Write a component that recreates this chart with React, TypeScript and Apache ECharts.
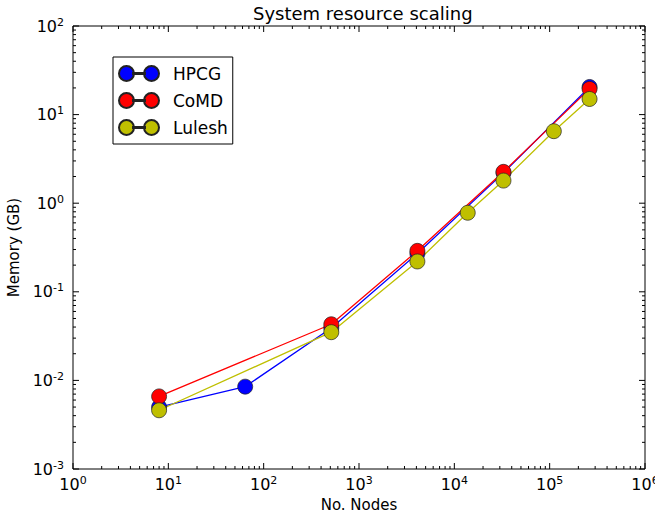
import React, { useEffect, useRef } from 'react';
import * as echarts from 'echarts';

const hpcgNodes = [8, 64, 512, 4096, 32768, 262144];
const hpcgMemory = [0.005, 0.0085, 0.039, 0.27, 2.2, 20.5];
const comdNodes = [8, 512, 4096, 32768, 262144];
const comdMemory = [0.0066, 0.043, 0.29, 2.26, 19.5];
const luleshNodes = [8, 512, 4096, 13824, 32768, 110592, 262144];
const luleshMemory = [0.0046, 0.035, 0.22, 0.78, 1.8, 6.5, 15];
const xDecades = [0, 1, 2, 3, 4, 5, 6];
const yDecades = [-3, -2, -1, 0, 1, 2];

const FONT = 'DejaVu Sans';
const LEGEND_ICON =
  'path://M0,7.5A7.5,7.5,0,1,1,15,7.5A7.5,7.5,0,1,1,0,7.5Z M25,7.5A7.5,7.5,0,1,1,40,7.5A7.5,7.5,0,1,1,25,7.5Z M14,7.1L26,7.1L26,7.9L14,7.9Z';

const zip = (xs: number[], ys: number[]) => xs.map((x, i) => [x, ys[i]]);

const supLabel = (v: number) => {
  const e = Math.round(Math.log10(v));
  return `{b|10}{s|${e}}`;
};

const labelRich = {
  b: { fontSize: 16, fontFamily: FONT, color: '#000' },
  s: { fontSize: 11, fontFamily: FONT, color: '#000', padding: [0, 0, 8, 0] },
};

function mkSeries(name: string, xs: number[], ys: number[], color: string) {
  return {
    name,
    type: 'line',
    data: zip(xs, ys),
    symbol: 'circle',
    symbolSize: 15,
    lineStyle: { color, width: 1.3 },
    itemStyle: { color, borderColor: '#222', borderWidth: 0.7 },
    emphasis: { disabled: true },
  };
}

export default function App() {
  const ref = useRef<HTMLDivElement>(null);
  useEffect(() => {
    const chart = echarts.init(ref.current!, undefined, { renderer: 'svg' });
    const tickSeries = {
      type: 'custom',
      silent: true,
      z: 10,
      clip: false,
      data: [[1, 1]],
      renderItem: (params: any, api: any) => {
        const cs = params.coordSys;
        const children: any[] = [];
        const st = { stroke: '#000', lineWidth: 1 };
        const left = cs.x, right = cs.x + cs.width, top = cs.y, bottom = cs.y + cs.height;
        xDecades.forEach((d, i) => {
          for (let k = 1; k <= 9; k++) {
            if (k > 1 && i === xDecades.length - 1) break;
            const px = api.coord([k * Math.pow(10, d), 1])[0];
            const len = k === 1 ? 6 : 3;
            children.push({ type: 'line', shape: { x1: px, y1: bottom, x2: px, y2: bottom - len }, style: st });
            children.push({ type: 'line', shape: { x1: px, y1: top, x2: px, y2: top + len }, style: st });
          }
        });
        yDecades.forEach((d, i) => {
          for (let k = 1; k <= 9; k++) {
            if (k > 1 && i === yDecades.length - 1) break;
            const py = api.coord([1, k * Math.pow(10, d)])[1];
            const len = k === 1 ? 6 : 3;
            children.push({ type: 'line', shape: { x1: left, y1: py, x2: left + len, y2: py }, style: st });
            children.push({ type: 'line', shape: { x1: right, y1: py, x2: right - len, y2: py }, style: st });
          }
        });
        return { type: 'group', children };
      },
    };
    chart.setOption({
      animation: false,
      backgroundColor: '#fff',
      title: {
        text: 'System resource scaling',
        left: 248,
        top: -1,
        textStyle: { fontFamily: FONT, fontSize: 18, fontWeight: 'normal', color: '#000' },
      },
      grid: {
        left: 73,
        right: 10,
        top: 26,
        bottom: 46,
        show: true,
        borderColor: '#000',
        borderWidth: 1,
        backgroundColor: 'transparent',
        containLabel: false,
        outerBoundsMode: 'none',
      },
      legend: {
        orient: 'vertical',
        left: 113,
        top: 57,
        itemWidth: 40,
        itemHeight: 15,
        itemGap: 10,
        padding: [8, 5, 8, 5],
        borderColor: '#000',
        borderWidth: 1,
        icon: LEGEND_ICON,
        data: ['HPCG', 'CoMD', 'Lulesh'],
        textStyle: { fontFamily: FONT, fontSize: 17, color: '#000', padding: [0, 0, 0, 9] },
        selectedMode: false,
      },
      xAxis: {
        type: 'log',
        logBase: 10,
        min: 1,
        max: 1e6,
        interval: 1,
        name: 'No. Nodes',
        nameLocation: 'middle',
        nameGap: 25,
        nameTextStyle: { fontFamily: FONT, fontSize: 15, color: '#000' },
        axisLine: { show: false },
        axisTick: { show: false },
        splitLine: { show: false },
        axisLabel: { formatter: supLabel, rich: labelRich, margin: 6 },
      },
      yAxis: {
        type: 'log',
        logBase: 10,
        min: 0.001,
        max: 100,
        interval: 1,
        name: 'Memory (GB)',
        nameLocation: 'middle',
        nameGap: 48,
        nameTextStyle: { fontFamily: FONT, fontSize: 15, color: '#000' },
        axisLine: { show: false },
        axisTick: { show: false },
        splitLine: { show: false },
        axisLabel: { formatter: supLabel, rich: labelRich, margin: 9 },
      },
      series: [
        mkSeries('HPCG', hpcgNodes, hpcgMemory, '#0000ff'),
        mkSeries('CoMD', comdNodes, comdMemory, '#ff0000'),
        mkSeries('Lulesh', luleshNodes, luleshMemory, '#bfbf00'),
        tickSeries,
      ],
    });
    return () => chart.dispose();
  }, []);
  return <div ref={ref} style={{ width: 655, height: 515, position: 'absolute', left: 0, top: 0 }} />;
}
